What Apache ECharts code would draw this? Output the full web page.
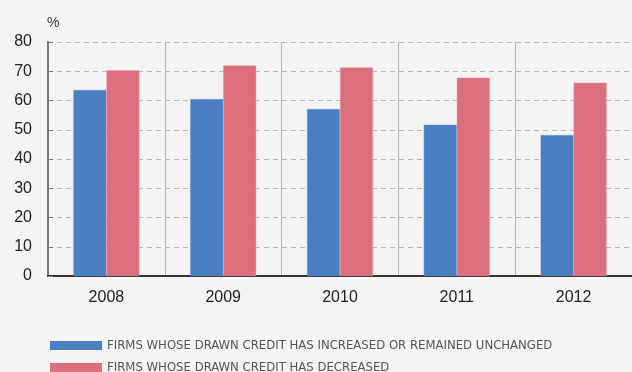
<!DOCTYPE html>
<html>
<head>
<meta charset="utf-8">
<script src="https://cdn.jsdelivr.net/npm/echarts@6/dist/echarts.min.js"></script>
<style>
  html, body { margin: 0; padding: 0; background: #f4f4f4; }
  #chart { width: 632px; height: 372px; }
</style>
</head>
<body>
<div id="chart"></div>
<script>
  const years = ['2008', '2009', '2010', '2011', '2012']
  const increasedOrUnchanged = [63.6, 60.5, 57.1, 51.7, 48.2]
  const decreased = [70.3, 72.0, 71.3, 67.8, 66.1]
  const seriesNames = [
    'FIRMS WHOSE DRAWN CREDIT HAS INCREASED OR REMAINED UNCHANGED',
    'FIRMS WHOSE DRAWN CREDIT HAS DECREASED'
  ]

  const legendText = {
    fontFamily: 'DejaVu Sans Condensed',
    fontSize: 13,
    color: '#555'
  }

  const chart = echarts.init(document.getElementById('chart'))
  chart.setOption({
    backgroundColor: '#f4f4f4',
    animation: false,
    grid: { left: 48, right: 0, top: 42, bottom: 96 },
    // one legend per row, the second one is cut by the bottom edge like in the source
    legend: [
      {
        left: 45, top: 334,
        itemWidth: 52, itemHeight: 9, icon: 'rect',
        itemStyle: { borderWidth: 0 },
        textStyle: legendText,
        data: [seriesNames[0]]
      },
      {
        left: 45, top: 356,
        itemWidth: 52, itemHeight: 9, icon: 'rect',
        itemStyle: { borderWidth: 0 },
        textStyle: legendText,
        data: [seriesNames[1]]
      }
    ],
    xAxis: {
      type: 'category',
      data: years,
      axisLine: { lineStyle: { color: '#333', width: 2 } },
      axisTick: { inside: true, length: 4, lineStyle: { color: '#333' } },
      axisLabel: { fontFamily: 'Liberation Sans', fontSize: 16, color: '#222', margin: 14 },
      splitLine: { show: true, lineStyle: { color: '#b4b4b4', width: 1 } }
    },
    yAxis: {
      type: 'value',
      min: 0,
      max: 80,
      interval: 10,
      name: '%',
      nameGap: 12,
      nameTextStyle: { fontFamily: 'Liberation Sans', fontSize: 14, color: '#333', align: 'left', padding: [0, 0, 0, -1] },
      axisLine: { show: true, lineStyle: { color: '#777', width: 2 } },
      axisTick: { show: true, inside: true, length: 5, lineStyle: { color: '#777' } },
      axisLabel: { fontFamily: 'Liberation Sans', fontSize: 16, color: '#222', margin: 16 },
      splitLine: { lineStyle: { type: [5, 4], color: '#b8b8b8', width: 1 } }
    },
    series: [
      {
        name: seriesNames[0],
        type: 'bar',
        data: increasedOrUnchanged,
        barWidth: 33,
        barGap: '0%',
        itemStyle: { color: '#4a7fc1', borderColor: '#6f9bd2', borderWidth: 0.5 }
      },
      {
        name: seriesNames[1],
        type: 'bar',
        data: decreased,
        barWidth: 33,
        itemStyle: { color: '#dc6e7e', borderColor: '#eb9aa6', borderWidth: 0.5 }
      }
    ]
  })
</script>
</body>
</html>
